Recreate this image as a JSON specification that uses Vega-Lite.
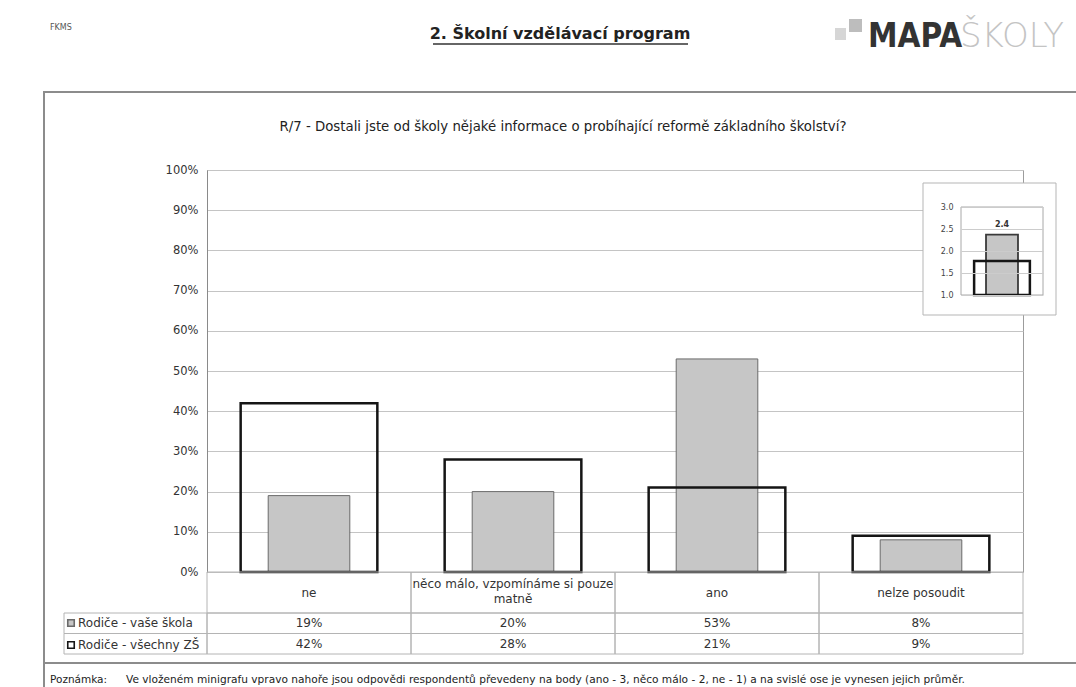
{
  "$schema": "https://vega.github.io/schema/vega-lite/v6.json",
  "width": 816,
  "height": 402,
  "autosize": {"type": "none"},
  "padding": {"left": 207, "top": 170, "right": 53, "bottom": 115},
  "background": "white",
  "config": {
    "font": "DejaVu Sans",
    "view": {"stroke": "#9c9c9c", "strokeWidth": 1},
    "text": {"font": "DejaVu Sans", "color": "#2a2a2a"},
    "axis": {"labelFont": "DejaVu Sans"},
    "legend": {"labelFont": "DejaVu Sans"}
  },
  "datasets": {
    "resp": [
      {"cat": "ne", "series": "Rodiče - vaše škola", "value": 0.19},
      {"cat": "ne", "series": "Rodiče - všechny ZŠ", "value": 0.42},
      {"cat": "něco málo, vzpomínáme si pouze\nmatně", "series": "Rodiče - vaše škola", "value": 0.20},
      {"cat": "něco málo, vzpomínáme si pouze\nmatně", "series": "Rodiče - všechny ZŠ", "value": 0.28},
      {"cat": "ano", "series": "Rodiče - vaše škola", "value": 0.53},
      {"cat": "ano", "series": "Rodiče - všechny ZŠ", "value": 0.21},
      {"cat": "nelze posoudit", "series": "Rodiče - vaše škola", "value": 0.08},
      {"cat": "nelze posoudit", "series": "Rodiče - všechny ZŠ", "value": 0.09}
    ],
    "avg": [
      {"series": "Rodiče - vaše škola", "v": 2.37},
      {"series": "Rodiče - všechny ZŠ", "v": 1.77}
    ],
    "page": [{}]
  },
  "layer": [
    {
      "data": {"name": "page"},
      "layer": [
        {
          "mark": {"type": "rect", "fill": "transparent", "stroke": "#8c8c8c", "strokeWidth": 2},
          "encoding": {
            "x": {"datum": 44, "type": "quantitative", "scale": {"type": "linear", "domain": [0, 1076], "range": [-207, 869], "nice": false, "zero": false}, "axis": null},
            "x2": {"datum": 1095},
            "y": {"datum": 92, "type": "quantitative", "scale": {"type": "linear", "domain": [0, 687], "range": [-170, 517], "nice": false, "zero": false}, "axis": null},
            "y2": {"datum": 663}
          }
        },
        {
          "mark": {"type": "rule", "stroke": "#8c8c8c", "strokeWidth": 2},
          "encoding": {
            "x": {"datum": 44, "type": "quantitative"},
            "y": {"datum": 663, "type": "quantitative"},
            "y2": {"datum": 687}
          }
        },
        {
          "mark": {"type": "text", "text": "FKMS", "fontSize": 8, "align": "left", "baseline": "middle", "color": "#555"},
          "encoding": {"x": {"datum": 50, "type": "quantitative"}, "y": {"datum": 28, "type": "quantitative"}}
        },
        {
          "mark": {"type": "text", "text": "2. Školní vzdělávací program", "fontSize": 16, "fontWeight": "bold", "align": "center", "baseline": "middle", "color": "#222"},
          "encoding": {"x": {"datum": 560, "type": "quantitative"}, "y": {"datum": 34, "type": "quantitative"}}
        },
        {
          "mark": {"type": "rule", "stroke": "#333", "strokeWidth": 1.3},
          "encoding": {"x": {"datum": 433, "type": "quantitative"}, "x2": {"datum": 688}, "y": {"datum": 44, "type": "quantitative"}}
        },
        {
          "mark": {"type": "rect", "fill": "#d6d6d6"},
          "encoding": {"x": {"datum": 835, "type": "quantitative"}, "x2": {"datum": 846}, "y": {"datum": 28, "type": "quantitative"}, "y2": {"datum": 40}}
        },
        {
          "mark": {"type": "rect", "fill": "#bdbdbd"},
          "encoding": {"x": {"datum": 849, "type": "quantitative"}, "x2": {"datum": 862}, "y": {"datum": 19, "type": "quantitative"}, "y2": {"datum": 32}}
        },
        {
          "mark": {"type": "text", "text": "MAPA", "font": "DejaVu Sans Condensed", "fontSize": 33, "fontWeight": "bold", "align": "left", "baseline": "alphabetic", "color": "#333"},
          "encoding": {"x": {"datum": 868, "type": "quantitative"}, "y": {"datum": 47, "type": "quantitative"}}
        },
        {
          "mark": {"type": "text", "text": "ŠKOLY", "font": "DejaVu Sans", "fontSize": 34, "fontWeight": 200, "align": "left", "baseline": "alphabetic", "color": "#c4c4c4"},
          "encoding": {"x": {"datum": 960, "type": "quantitative"}, "y": {"datum": 47, "type": "quantitative"}}
        },
        {
          "mark": {"type": "text", "text": "R/7 - Dostali jste od školy nějaké informace o probíhající reformě základního školství?", "fontSize": 13.3, "align": "center", "baseline": "middle", "color": "#222"},
          "encoding": {"x": {"datum": 563, "type": "quantitative"}, "y": {"datum": 127, "type": "quantitative"}}
        },
        {
          "mark": {"type": "text", "text": "Poznámka:", "fontSize": 10.5, "align": "left", "baseline": "middle", "color": "#222"},
          "encoding": {"x": {"datum": 50, "type": "quantitative"}, "y": {"datum": 680, "type": "quantitative"}}
        },
        {
          "mark": {"type": "text", "text": "Ve vloženém minigrafu vpravo nahoře jsou odpovědi respondentů převedeny na body (ano - 3, něco málo - 2, ne - 1) a na svislé ose je vynesen jejich průměr.", "fontSize": 10.6, "align": "left", "baseline": "middle", "color": "#222"},
          "encoding": {"x": {"datum": 126, "type": "quantitative"}, "y": {"datum": 680, "type": "quantitative"}}
        }
      ]
    },
    {
      "data": {"name": "resp"},
      "encoding": {
        "x": {"field": "cat", "type": "nominal", "sort": ["ne", "něco málo, vzpomínáme si pouze\nmatně", "ano", "nelze posoudit"], "scale": {"paddingInner": 0, "paddingOuter": 0}, "axis": null},
        "y": {"field": "value", "type": "quantitative", "scale": {"domain": [0, 1], "nice": false},
          "axis": {"orient": "left", "values": [0, 0.1, 0.2, 0.3, 0.4, 0.5, 0.6, 0.7, 0.8, 0.9, 1], "format": ".0%", "grid": true, "gridColor": "#c4c4c4", "domain": true, "domainColor": "#8a8a8a", "ticks": false, "labelPadding": 9, "labelFontSize": 11.5, "labelColor": "#333", "title": null}}
      },
      "layer": [
        {
          "transform": [{"filter": {"field": "series", "equal": "Rodiče - vaše škola"}}],
          "mark": {"type": "bar", "width": {"band": 0.4}, "strokeWidth": 1},
          "encoding": {
            "fill": {"field": "series", "type": "nominal", "scale": {"domain": ["Rodiče - vaše škola", "Rodiče - všechny ZŠ"], "range": ["#c6c6c6", "transparent"]},
              "legend": {"title": null, "orient": "none", "legendX": -142, "legendY": 447, "symbolType": "square", "symbolSize": 42, "symbolStrokeWidth": 1.6, "labelFontSize": 12, "labelColor": "#333", "labelOffset": 1, "rowPadding": 8, "padding": 0}},
            "stroke": {"field": "series", "type": "nominal", "scale": {"domain": ["Rodiče - vaše škola", "Rodiče - všechny ZŠ"], "range": ["#6a6a6a", "#151515"]},
              "legend": {"title": null, "orient": "none", "legendX": -142, "legendY": 447, "symbolType": "square", "symbolSize": 42, "symbolStrokeWidth": 1.6, "labelFontSize": 12, "labelColor": "#333", "labelOffset": 1, "rowPadding": 8, "padding": 0}}
          }
        },
        {
          "transform": [{"filter": {"field": "series", "equal": "Rodiče - všechny ZŠ"}}],
          "mark": {"type": "bar", "width": {"band": 0.67}, "strokeWidth": 2.5},
          "encoding": {
            "fill": {"field": "series", "type": "nominal"},
            "stroke": {"field": "series", "type": "nominal"}
          }
        }
      ]
    },
    {
      "data": {"name": "resp"},
      "encoding": {
        "x": {"field": "cat", "type": "nominal", "sort": ["ne", "něco málo, vzpomínáme si pouze\nmatně", "ano", "nelze posoudit"], "scale": {"type": "band", "paddingInner": 0, "paddingOuter": 0}, "axis": null}
      },
      "layer": [
        {
          "mark": {"type": "rect", "fill": "transparent", "stroke": "#b4b4b4", "strokeWidth": 1},
          "encoding": {
            "y": {"field": "series", "type": "nominal", "scale": {"type": "band", "domain": ["h1", "h2", "Rodiče - vaše škola", "Rodiče - všechny ZŠ"], "range": [402, 484], "paddingInner": 0, "paddingOuter": 0}, "axis": null}
          }
        },
        {
          "transform": [{"filter": {"field": "series", "equal": "Rodiče - vaše škola"}}],
          "mark": {"type": "rect", "fill": "transparent", "stroke": "#b4b4b4", "strokeWidth": 1},
          "encoding": {
            "y": {"datum": "h1", "type": "nominal", "bandPosition": 0},
            "y2": {"datum": "h2", "bandPosition": 1}
          }
        },
        {
          "transform": [{"filter": "datum.series === 'Rodiče - vaše škola' && indexof(datum.cat, '\\n') < 0"}],
          "mark": {"type": "text", "fontSize": 12, "baseline": "middle", "color": "#333"},
          "encoding": {
            "y": {"datum": "h2", "type": "nominal", "bandPosition": 0},
            "text": {"field": "cat"}
          }
        },
        {
          "transform": [{"filter": "datum.series === 'Rodiče - vaše škola' && indexof(datum.cat, '\\n') >= 0"}],
          "mark": {"type": "text", "fontSize": 12, "lineBreak": "\n", "lineHeight": 15, "baseline": "middle", "dy": -9, "color": "#333"},
          "encoding": {
            "y": {"datum": "h2", "type": "nominal", "bandPosition": 0},
            "text": {"field": "cat"}
          }
        },
        {
          "mark": {"type": "text", "fontSize": 12, "baseline": "middle", "color": "#333"},
          "encoding": {
            "y": {"field": "series", "type": "nominal"},
            "text": {"field": "value", "type": "quantitative", "format": ".0%"}
          }
        }
      ]
    },
    {
      "data": {"name": "resp"},
      "transform": [{"aggregate": [{"op": "count", "as": "n"}], "groupby": ["series"]}],
      "mark": {"type": "rect", "fill": "transparent", "stroke": "#b4b4b4", "strokeWidth": 1},
      "encoding": {
        "x": {"datum": "lbl", "type": "nominal", "scale": {"type": "band", "domain": ["lbl"], "range": [-143, 0], "paddingInner": 0, "paddingOuter": 0}, "axis": null},
        "y": {"field": "series", "type": "nominal", "scale": {"type": "band", "domain": ["h1", "h2", "Rodiče - vaše škola", "Rodiče - všechny ZŠ"], "range": [402, 484], "paddingInner": 0, "paddingOuter": 0}, "axis": null}
      }
    },
    {
      "data": {"name": "page"},
      "mark": {"type": "rect", "fill": "white", "stroke": "#b5b5b5", "strokeWidth": 1},
      "encoding": {
        "x": {"datum": 0, "type": "quantitative", "scale": {"domain": [0, 1], "range": [716, 849], "nice": false, "zero": false}, "axis": null},
        "x2": {"datum": 1},
        "y": {"datum": 0, "type": "quantitative", "scale": {"domain": [0, 1], "range": [145, 13], "nice": false, "zero": false}, "axis": null},
        "y2": {"datum": 1}
      }
    },
    {
      "data": {"name": "avg"},
      "encoding": {
        "x": {"datum": "průměr", "type": "nominal", "scale": {"type": "band", "domain": ["průměr"], "range": [754, 836], "paddingInner": 0, "paddingOuter": 0}, "axis": null}
      },
      "layer": [
        {
          "transform": [{"filter": {"field": "series", "equal": "Rodiče - vaše škola"}}],
          "mark": {"type": "rect", "fill": "transparent", "stroke": "#a8a8a8", "strokeWidth": 1},
          "encoding": {
            "y": {"datum": 1, "type": "quantitative", "scale": {"domain": [1, 3], "range": [125, 37], "nice": false, "zero": false},
              "axis": {"orient": "left", "offset": -754, "values": [1, 1.5, 2, 2.5, 3], "format": ".1f", "grid": true, "gridColor": "#cccccc", "domain": false, "ticks": false, "labelFontSize": 8, "labelColor": "#444", "labelPadding": 8, "title": null, "zindex": 2}},
            "y2": {"datum": 3}
          }
        },
        {
          "transform": [{"filter": {"field": "series", "equal": "Rodiče - vaše škola"}}],
          "mark": {"type": "bar", "width": {"band": 0.39}, "stroke": "#3a3a3a", "strokeWidth": 1.8},
          "encoding": {
            "y": {"field": "v", "type": "quantitative"},
            "y2": {"datum": 1},
            "fill": {"field": "series", "type": "nominal"}
          }
        },
        {
          "transform": [{"filter": {"field": "series", "equal": "Rodiče - všechny ZŠ"}}],
          "mark": {"type": "bar", "width": {"band": 0.68}, "stroke": "#151515", "strokeWidth": 2.5},
          "encoding": {
            "y": {"field": "v", "type": "quantitative"},
            "y2": {"datum": 1},
            "fill": {"field": "series", "type": "nominal"}
          }
        },
        {
          "transform": [{"filter": {"field": "series", "equal": "Rodiče - vaše škola"}}],
          "mark": {"type": "text", "fontSize": 8, "fontWeight": "bold", "baseline": "bottom", "dy": -6, "color": "#333"},
          "encoding": {
            "y": {"field": "v", "type": "quantitative"},
            "text": {"field": "v", "type": "quantitative", "format": ".1f"}
          }
        }
      ]
    }
  ],
  "resolve": {"scale": {"x": "independent", "y": "independent"}}
}
